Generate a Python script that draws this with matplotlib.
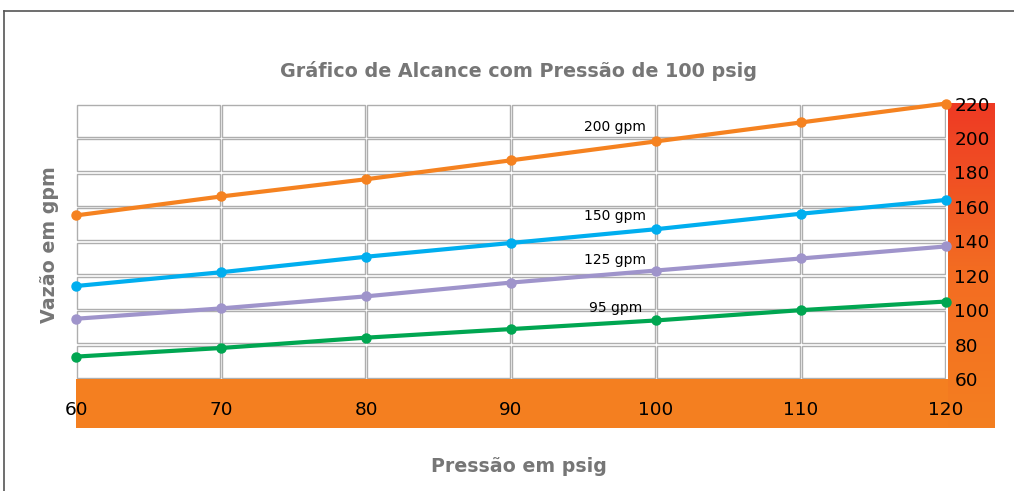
import numpy as np
import matplotlib
matplotlib.use("Agg")
import matplotlib.pyplot as plt
from matplotlib.patches import Rectangle
from matplotlib.colors import LinearSegmentedColormap

pressure = [60, 70, 80, 90, 100, 110, 120]
flow_200 = [155, 166, 176, 187, 198, 209, 220]
flow_150 = [114, 122, 131, 139, 147, 156, 164]
flow_125 = [95, 101, 108, 116, 123, 130, 137]
flow_95 = [73, 78, 84, 89, 94, 100, 105]
series_labels = ["200 gpm", "150 gpm", "125 gpm", "95 gpm"]
colors = ["#f58220", "#00aeef", "#9f94cb", "#00a651"]
y_ticks = [60, 80, 100, 120, 140, 160, 180, 200, 220]

W, H = 1014, 491
fig = plt.figure(figsize=(W / 100, H / 100), dpi=100)

# background layer in pixel coords
bg = fig.add_axes([0, 0, 1, 1])
bg.axis("off")
bg.plot([4, W], [11, 11], color="#555555", lw=1.2)
bg.plot([4, 4], [11, H], color="#555555", lw=1.2)

# orange bands
bg.add_patch(Rectangle((76, 379), 918, 49, color="#f47f20", lw=0))
grad = LinearSegmentedColormap.from_list("g", ["#ee3a24", "#f36b22", "#f47f20"])
bg.imshow(np.linspace(0, 1, 200).reshape(-1, 1), cmap=grad, aspect="auto",
          extent=[947.5, 994, 428, 103], zorder=1)
bg.set_xlim(0, W)
bg.set_ylim(H, 0)

# main plot
L, R, T, B = 76, 946, 103.5, 379
ax = fig.add_axes([L / W, 1 - B / H, (R - L) / W, (B - T) / H])
ax.patch.set_alpha(0)
ax.set_xlim(60, 120)
ax.set_ylim(60, 220)
for s in ax.spines.values():
    s.set_visible(False)

# grid cells with white gaps
px_x = 60 / (R - L)
px_y = 160 / (B - T)
gap = 1.3
for x0 in pressure[:-1]:
    for y0 in y_ticks[:-1]:
        ax.add_patch(Rectangle((x0 + gap * px_x, y0 + gap * px_y),
                               10 - 2 * gap * px_x, 20 - 2 * gap * px_y,
                               facecolor="white", edgecolor="#aeaeae", lw=1.0, zorder=1))

for ys, c in zip([flow_200, flow_150, flow_125, flow_95], colors):
    ax.plot(pressure, ys, color=c, lw=3, marker="o", ms=6.5, zorder=3, clip_on=False)

label_pos = [(97.2, 206.5), (97.2, 154.5), (97.2, 129), (97.2, 101)]
for txt, (lx, ly) in zip(series_labels, label_pos):
    ax.text(lx, ly, txt, ha="center", va="center", fontsize=10, color="black", zorder=4)

ax.set_xticks(pressure)
ax.set_xticklabels([str(p) for p in pressure])
ax.yaxis.tick_right()
ax.set_yticks(y_ticks)
ax.set_yticklabels([str(v) for v in y_ticks])
ax.tick_params(axis="x", length=0, pad=15.5, labelsize=13.3)
ax.tick_params(axis="y", length=0, pad=6, labelsize=13.3)

fig.text(519 / W, 1 - 71 / H, "Gráfico de Alcance com Pressão de 100 psig",
         ha="center", va="center", fontsize=13.8, fontweight="bold", color="#767676")
fig.text(519 / W, 1 - 467 / H, "Pressão em psig",
         ha="center", va="center", fontsize=13.7, fontweight="bold", color="#767676")
fig.text(50 / W, 1 - 245 / H, "Vazão em gpm", rotation=90,
         ha="center", va="center", fontsize=13.7, fontweight="bold", color="#767676")

fig.savefig("out.png", dpi=100)
